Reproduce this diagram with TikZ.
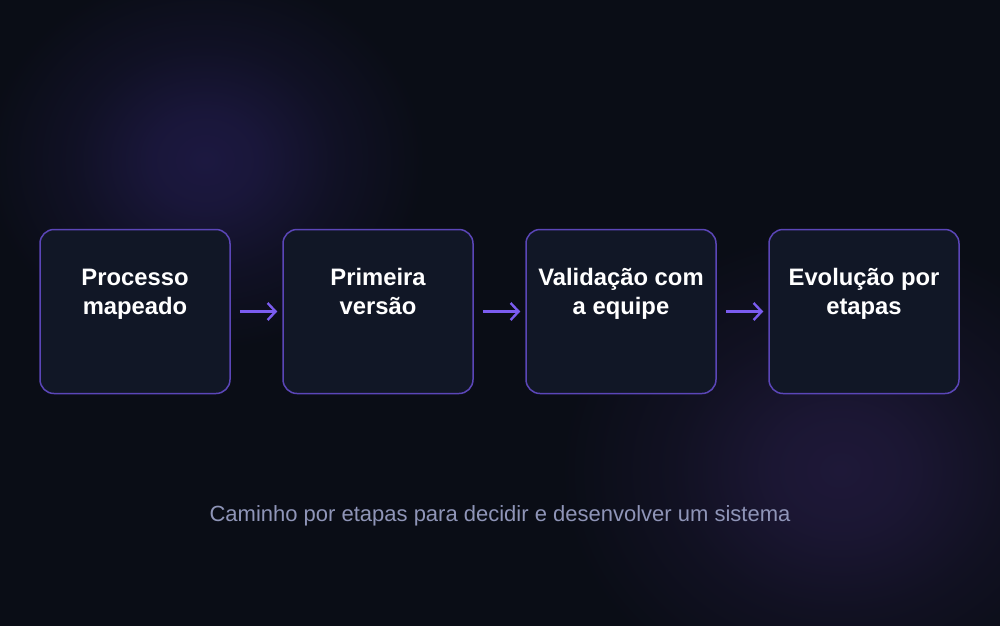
\documentclass[tikz,border=0pt]{standalone}
\usepackage{fontspec}
\setmainfont{Liberation Sans}
\usetikzlibrary{arrows.meta}
\definecolor{bgc}{HTML}{0A0D16}
\definecolor{glowa}{HTML}{1C1840}
\definecolor{glowb}{HTML}{1E1838}
\definecolor{boxfill}{HTML}{111726}
\definecolor{boxline}{HTML}{5B46B8}
\definecolor{arrc}{HTML}{7B5CF0}
\definecolor{capc}{HTML}{8F95B8}
\pgfdeclareradialshading{glowA}{\pgfpoint{0bp}{0bp}}{color(0bp)=(glowa); color(6bp)=(glowa!85!bgc); color(15bp)=(glowa!35!bgc); color(25bp)=(bgc); color(50bp)=(bgc)}
\pgfdeclareradialshading{glowB}{\pgfpoint{0bp}{0bp}}{color(0bp)=(glowb); color(6bp)=(glowb!85!bgc); color(15bp)=(glowb!35!bgc); color(25bp)=(bgc); color(50bp)=(bgc)}
\tikzset{
  stepbox/.style={draw=boxline, fill=boxfill, line width=1.5pt, rounded corners=14pt,
    minimum width=190pt, minimum height=164pt, inner sep=0pt},
  steptext/.style={text=white, align=center, anchor=north, font=\fontsize{23.8}{29.5}\selectfont\bfseries, inner sep=0pt},
  arr/.style={draw=arrc, line width=2.4pt, -{Straight Barb[length=8pt,width=17pt]}},
  captext/.style={text=capc, anchor=base, font=\fontsize{22}{26}\selectfont, inner sep=0pt}
}
\begin{document}
\begin{tikzpicture}[x=1pt,y=-1pt]
\useasboundingbox (0,0) rectangle (1000,625);
\fill[bgc] (-3,-3) rectangle (1003,628);
\begin{scope}
\clip (0,0) rectangle (1000,625);
\shade[shading=glowA] (205,160) ellipse (220 and 190);
\shade[shading=glowB] (840,470) ellipse (280 and 240);
\end{scope}
\node[stepbox] (b1) at (135,311.5) {};
\node[stepbox] (b2) at (378,311.5) {};
\node[stepbox] (b3) at (621,311.5) {};
\node[stepbox] (b4) at (864,311.5) {};
\node[steptext] (t1) at (135,264.3) {Processo\strut\\mapeado\strut};
\node[steptext] (t2) at (378,264.3) {Primeira\strut\\versão\strut};
\node[steptext] (t3) at (621,264.3) {Validação com\strut\\a equipe\strut};
\node[steptext] (t4) at (864,264.3) {Evolução por\strut\\etapas\strut};
\draw[arr] ([xshift=9pt]b1.east) -- ([xshift=-5pt]b2.west);
\draw[arr] ([xshift=9pt]b2.east) -- ([xshift=-5pt]b3.west);
\draw[arr] ([xshift=9pt]b3.east) -- ([xshift=-5pt]b4.west);
\node[captext] (cap) at (500,521) {Caminho por etapas para decidir e desenvolver um sistema};
\end{tikzpicture}
\end{document}
